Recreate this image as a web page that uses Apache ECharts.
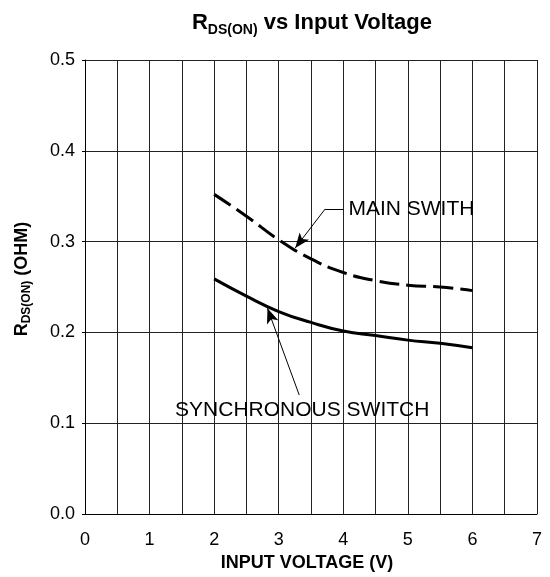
<!DOCTYPE html>
<html>
<head>
<meta charset="utf-8">
<script src="https://cdn.jsdelivr.net/npm/echarts@6/dist/echarts.min.js"></script>
<style>
html,body{margin:0;padding:0;background:#fff;}
#c{width:550px;height:577px;}
</style>
</head>
<body>
<div id="c"></div>
<script>
// Data
var inputVoltage = [2, 2.5, 3, 3.5, 4, 4.5, 5, 5.5, 6];
var mainSwitch = [0.352, 0.328, 0.302, 0.281, 0.266, 0.257, 0.252, 0.250, 0.246];
var syncSwitch = [0.259, 0.240, 0.223, 0.211, 0.2015, 0.1965, 0.1915, 0.188, 0.183];
var xTickLabels = ['0', '1', '2', '3', '4', '5', '6', '7'];
var yTickLabels = ['0.0', '0.1', '0.2', '0.3', '0.4', '0.5'];
var mainLabel = 'MAIN SWITH';
var syncLabel = 'SYNCHRONOUS SWITCH';

function pairs(xs, ys) { return xs.map(function (x, i) { return [x, ys[i]]; }); }

var FONT = 'Liberation Sans, Arial, sans-serif';
var chart = echarts.init(document.getElementById('c'), null, {renderer: 'canvas'});
chart.setOption({
  animation: false,
  backgroundColor: '#fff',
  title: {
    text: '{r|R}{s|DS(ON)}{r| vs Input Voltage}',
    left: 307, top: 7, textAlign: 'center',
    textStyle: {
      rich: {
        r: {fontFamily: FONT, fontWeight: 'bold', fontSize: 22, color: '#000', verticalAlign: 'bottom'},
        s: {fontFamily: FONT, fontWeight: 'bold', fontSize: 14, color: '#000', verticalAlign: 'bottom', padding: [0, 0, -3, 0]}
      }
    }
  },
  grid: {left: 85, right: 13, top: 60, bottom: 63, containLabel: false},
  xAxis: {
    type: 'value', min: 0, max: 7, interval: 0.5,
    name: 'INPUT VOLTAGE (V)', nameLocation: 'middle', nameGap: 40,
    nameTextStyle: {fontFamily: FONT, fontWeight: 'bold', fontSize: 18, color: '#000', padding: [0, 8, 0, 0]},
    axisLine: {show: true, lineStyle: {color: '#000', width: 1}},
    axisTick: {show: false},
    axisLabel: {
      color: '#000', fontFamily: FONT, fontSize: 18, margin: 17,
      formatter: function (v) { return (v % 1 === 0) ? xTickLabels[v] : ''; }
    },
    splitLine: {show: true, lineStyle: {color: '#222', width: 1}}
  },
  yAxis: {
    type: 'value', min: 0, max: 0.5, interval: 0.1,
    name: '{r|R}{s|DS(ON)}{r| (OHM)}', nameLocation: 'middle', nameGap: 54, nameRotate: 90,
    nameTextStyle: {
      padding: [0, 0, 0, 16],
      rich: {
        r: {fontFamily: FONT, fontWeight: 'bold', fontSize: 18, color: '#000', verticalAlign: 'bottom'},
        s: {fontFamily: FONT, fontWeight: 'bold', fontSize: 12, color: '#000', verticalAlign: 'bottom', padding: [0, 0, -2, 0]}
      }
    },
    axisLine: {show: true, lineStyle: {color: '#000', width: 1}},
    axisTick: {show: true, length: 3, inside: false, lineStyle: {color: '#000'}},
    axisLabel: {
      color: '#000', fontFamily: FONT, fontSize: 18, margin: 10,
      formatter: function (v) { return yTickLabels[Math.round(v * 10)]; }
    },
    splitLine: {show: true, lineStyle: {color: '#222', width: 1}}
  },
  series: [
    {
      name: 'Main switch', type: 'line', smooth: true, showSymbol: false, symbol: 'none',
      data: pairs(inputVoltage, mainSwitch),
      lineStyle: {color: '#000', width: 3, type: [20, 7]},
      z: 5,
      markLine: {
        silent: true, animation: false,
        lineStyle: {color: '#000', width: 1, type: 'solid'},
        label: {show: false},
        data: [
          [{coord: [4.0, 0.336], symbol: 'none'}, {coord: [3.72, 0.336], symbol: 'none'}],
          [{coord: [3.72, 0.336], symbol: 'none'}, {coord: [3.256, 0.293], symbol: 'arrow', symbolSize: [9, 15]}]
        ]
      },
      markPoint: {
        silent: true, animation: false, symbol: 'rect', symbolSize: 0,
        data: [{coord: [4.08, 0.336], value: mainLabel}],
        label: {show: true, position: 'right', distance: 0, formatter: '{c}', color: '#000', fontFamily: FONT, fontSize: 21}
      }
    },
    {
      name: 'Synchronous switch', type: 'line', smooth: true, showSymbol: false, symbol: 'none',
      data: pairs(inputVoltage, syncSwitch),
      lineStyle: {color: '#000', width: 3, type: 'solid'},
      z: 5,
      markLine: {
        silent: true, animation: false,
        lineStyle: {color: '#000', width: 1, type: 'solid'},
        label: {show: false},
        data: [
          [{coord: [3.318, 0.131], symbol: 'none'}, {coord: [2.826, 0.2265], symbol: 'arrow', symbolSize: [9, 15]}]
        ]
      },
      markPoint: {
        silent: true, animation: false, symbol: 'rect', symbolSize: 0,
        data: [{coord: [3.364, 0.1145], value: syncLabel}],
        label: {show: true, position: 'inside', color: '#000', fontFamily: FONT, fontSize: 21, formatter: '{c}'}
      }
    }
  ]
});
</script>
</body>
</html>
